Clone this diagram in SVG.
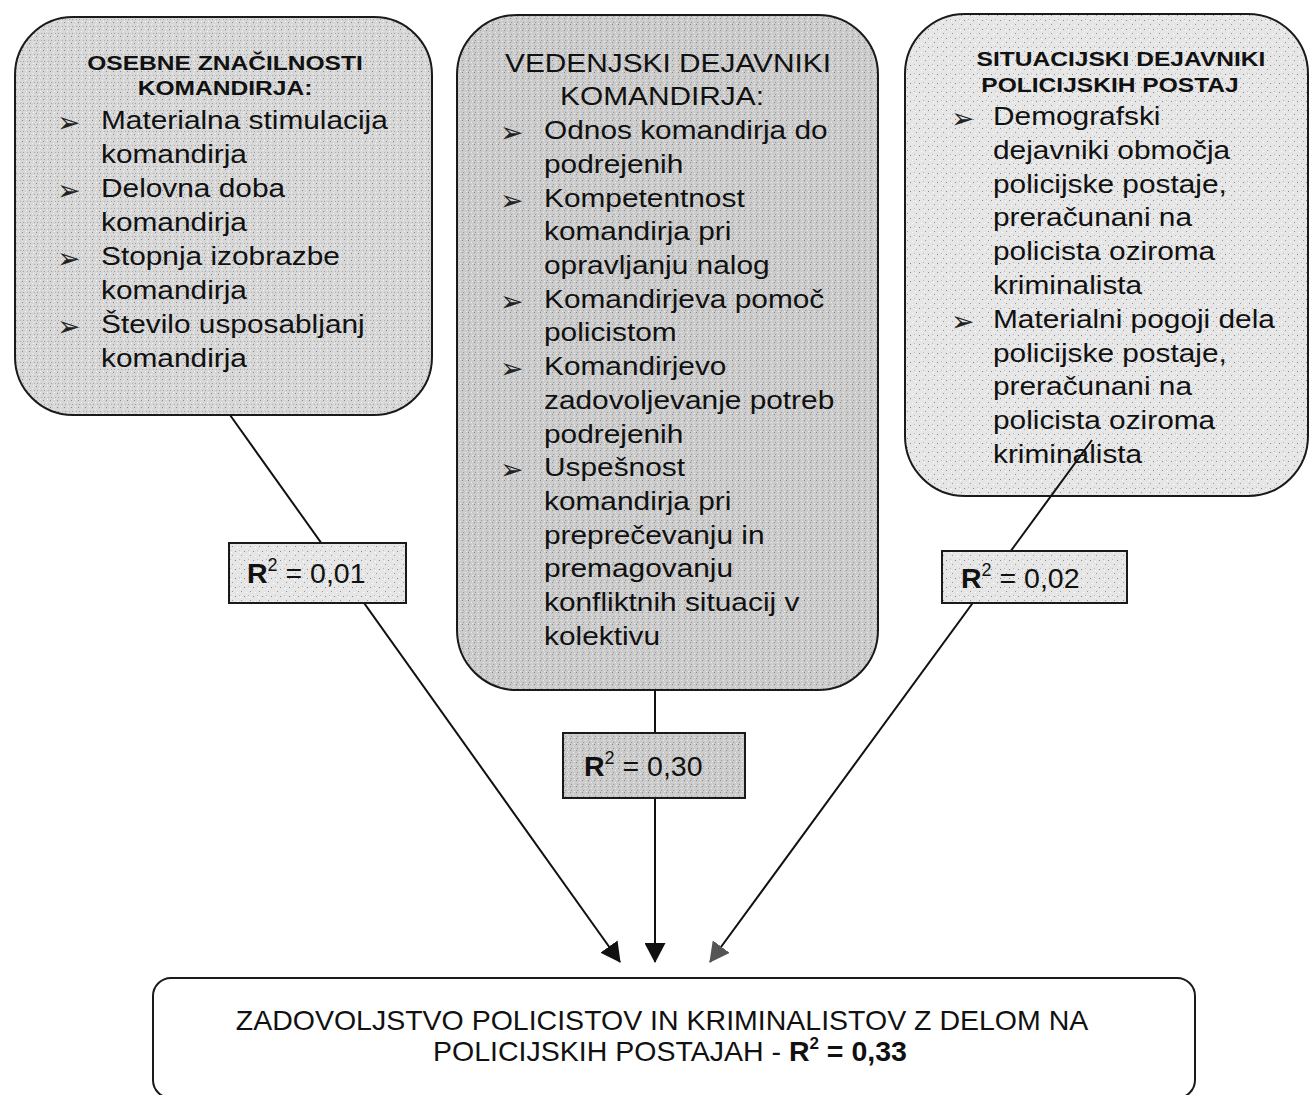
<svg xmlns="http://www.w3.org/2000/svg" width="1310" height="1095" viewBox="0 0 1310 1095">
<defs>
<pattern id="pL" width="7" height="7" patternUnits="userSpaceOnUse">
<rect width="7" height="7" fill="#d7d7d7"/>
<rect x="1" y="1" width="1" height="1" fill="#8a8a8a"/>
<rect x="4" y="3" width="1" height="1" fill="#f4f4f4"/>
<rect x="2" y="5" width="1" height="1" fill="#a0a0a0"/>
<rect x="5" y="0" width="1" height="1" fill="#fafafa"/>
<rect x="6" y="5" width="1" height="1" fill="#b0b0b0"/>
</pattern>
<pattern id="pM" width="6" height="6" patternUnits="userSpaceOnUse">
<rect width="6" height="6" fill="#cbcbcb"/>
<rect x="0" y="0" width="1" height="1" fill="#8c8c8c"/>
<rect x="3" y="2" width="1" height="1" fill="#ececec"/>
<rect x="1" y="4" width="1" height="1" fill="#9a9a9a"/>
<rect x="4" y="5" width="1" height="1" fill="#f0f0f0"/>
</pattern>
<pattern id="pR" width="9" height="9" patternUnits="userSpaceOnUse">
<rect width="9" height="9" fill="#e6e6e6"/>
<rect x="1" y="2" width="1" height="1" fill="#888"/>
<rect x="5" y="1" width="1" height="1" fill="#bbb"/>
<rect x="7" y="6" width="1" height="1" fill="#999"/>
<rect x="3" y="7" width="1" height="1" fill="#fff"/>
<rect x="6" y="3" width="1" height="1" fill="#fff"/>
</pattern>
<marker id="ahB" viewBox="0 0 20 21" refX="19" refY="10.5" markerWidth="20" markerHeight="21" markerUnits="userSpaceOnUse" orient="auto">
<path d="M0,0 L20,10.5 L0,21 z" fill="#111"/>
</marker>
<marker id="ahG" viewBox="0 0 20 21" refX="19" refY="10.5" markerWidth="20" markerHeight="21" markerUnits="userSpaceOnUse" orient="auto">
<path d="M0,0 L20,10.5 L0,21 z" fill="#555"/>
</marker>
</defs>
<style>
.box{stroke:#1a1a1a;stroke-width:2}
.t{font-family:"Liberation Sans",Arial,sans-serif;font-size:25.5px;fill:#111}
.h{font-family:"Liberation Sans",Arial,sans-serif;font-size:21px;font-weight:bold;fill:#111}
.c{text-anchor:middle}
.bu{font-family:"DejaVu Sans",sans-serif;font-size:28px;fill:#222}
.lb{font-family:"Liberation Sans",Arial,sans-serif;font-size:28.5px;fill:#111}
.bt{font-family:"Liberation Sans",Arial,sans-serif;font-size:28.5px;fill:#111;text-anchor:middle}
.ln{fill:none;stroke:#111;stroke-width:2}
</style>
<rect width="1310" height="1095" fill="#fff"/>

<g id="node-osebne">
<rect class="box" x="15" y="17" width="417" height="398" rx="58" fill="url(#pL)"/>
<text class="h c" transform="translate(225 70) scale(1.17 1)">OSEBNE ZNAČILNOSTI</text>
<text class="h c" transform="translate(225 95) scale(1.17 1)">KOMANDIRJA:</text>
<text class="bu" x="57" y="132">➢</text>
<text class="bu" x="57" y="200">➢</text>
<text class="bu" x="57" y="268">➢</text>
<text class="bu" x="57" y="336">➢</text>
<text class="t" transform="translate(101 129) scale(1.17 1)">Materialna stimulacija</text>
<text class="t" transform="translate(101 163) scale(1.17 1)">komandirja</text>
<text class="t" transform="translate(101 197) scale(1.17 1)">Delovna doba</text>
<text class="t" transform="translate(101 231) scale(1.17 1)">komandirja</text>
<text class="t" transform="translate(101 265) scale(1.17 1)">Stopnja izobrazbe</text>
<text class="t" transform="translate(101 299) scale(1.17 1)">komandirja</text>
<text class="t" transform="translate(101 333) scale(1.17 1)">Število usposabljanj</text>
<text class="t" transform="translate(101 367) scale(1.17 1)">komandirja</text>
</g>

<g id="node-vedenjski">
<rect class="box" x="457" y="15" width="421" height="675" rx="60" fill="url(#pM)"/>
<text class="t c" transform="translate(668 72) scale(1.17 1)">VEDENJSKI DEJAVNIKI</text>
<text class="t c" transform="translate(662 105) scale(1.17 1)">KOMANDIRJA:</text>
<text class="bu" x="500" y="142">➢</text>
<text class="bu" x="500" y="210">➢</text>
<text class="bu" x="500" y="311">➢</text>
<text class="bu" x="500" y="378">➢</text>
<text class="bu" x="500" y="479">➢</text>
<text class="t" transform="translate(544 139) scale(1.17 1)">Odnos komandirja do</text>
<text class="t" transform="translate(544 173) scale(1.17 1)">podrejenih</text>
<text class="t" transform="translate(544 207) scale(1.17 1)">Kompetentnost</text>
<text class="t" transform="translate(544 240) scale(1.17 1)">komandirja pri</text>
<text class="t" transform="translate(544 274) scale(1.17 1)">opravljanju nalog</text>
<text class="t" transform="translate(544 308) scale(1.17 1)">Komandirjeva pomoč</text>
<text class="t" transform="translate(544 341) scale(1.17 1)">policistom</text>
<text class="t" transform="translate(544 375) scale(1.17 1)">Komandirjevo</text>
<text class="t" transform="translate(544 409) scale(1.17 1)">zadovoljevanje potreb</text>
<text class="t" transform="translate(544 443) scale(1.17 1)">podrejenih</text>
<text class="t" transform="translate(544 476) scale(1.17 1)">Uspešnost</text>
<text class="t" transform="translate(544 510) scale(1.17 1)">komandirja pri</text>
<text class="t" transform="translate(544 544) scale(1.17 1)">preprečevanju in</text>
<text class="t" transform="translate(544 577) scale(1.17 1)">premagovanju</text>
<text class="t" transform="translate(544 611) scale(1.17 1)">konfliktnih situacij v</text>
<text class="t" transform="translate(544 645) scale(1.17 1)">kolektivu</text>
</g>

<g id="node-situacijski">
<rect class="box" x="905" y="14" width="403" height="482" rx="60" fill="url(#pR)"/>
<text class="h c" transform="translate(1121 66) scale(1.17 1)">SITUACIJSKI DEJAVNIKI</text>
<text class="h c" transform="translate(1110 92) scale(1.17 1)">POLICIJSKIH POSTAJ</text>
<text class="bu" x="951" y="128">➢</text>
<text class="bu" x="951" y="331">➢</text>
<text class="t" transform="translate(993 125) scale(1.17 1)">Demografski</text>
<text class="t" transform="translate(993 159) scale(1.17 1)">dejavniki območja</text>
<text class="t" transform="translate(993 193) scale(1.17 1)">policijske postaje,</text>
<text class="t" transform="translate(993 226) scale(1.17 1)">preračunani na</text>
<text class="t" transform="translate(993 260) scale(1.17 1)">policista oziroma</text>
<text class="t" transform="translate(993 294) scale(1.17 1)">kriminalista</text>
<text class="t" transform="translate(993 328) scale(1.17 1)">Materialni pogoji dela</text>
<text class="t" transform="translate(993 362) scale(1.17 1)">policijske postaje,</text>
<text class="t" transform="translate(993 395) scale(1.17 1)">preračunani na</text>
<text class="t" transform="translate(993 429) scale(1.17 1)">policista oziroma</text>
<text class="t" transform="translate(993 463) scale(1.17 1)">kriminalista</text>
</g>

<g id="connectors">
<line class="ln" x1="230" y1="415" x2="620" y2="962" marker-end="url(#ahB)"/>
<line class="ln" x1="655" y1="690" x2="655" y2="962" stroke-width="2.5" marker-end="url(#ahB)"/>
<line class="ln" x1="1092" y1="440" x2="710" y2="962" stroke="#444" stroke-width="1.6" marker-end="url(#ahG)"/>
</g>

<g id="label-r001">
<rect class="box" x="229" y="543" width="177" height="60" fill="url(#pR)"/>
<text class="lb" x="247" y="583"><tspan font-weight="bold">R</tspan><tspan font-size="18" dy="-12">2</tspan><tspan dy="12"> = 0,01</tspan></text>
</g>
<g id="label-r030">
<rect class="box" x="563" y="733" width="182" height="65" fill="url(#pM)"/>
<text class="lb" x="584" y="776"><tspan font-weight="bold">R</tspan><tspan font-size="18" dy="-12">2</tspan><tspan dy="12"> = 0,30</tspan></text>
</g>
<g id="label-r002">
<rect class="box" x="942" y="551" width="185" height="52" fill="url(#pR)" stroke-width="1.5"/>
<text class="lb" x="961" y="588"><tspan font-weight="bold">R</tspan><tspan font-size="18" dy="-12">2</tspan><tspan dy="12"> = 0,02</tspan></text>
</g>

<g id="node-zadovoljstvo">
<rect class="box" x="153" y="978" width="1042" height="120" rx="18" fill="#fff"/>
<text class="bt" x="662" y="1030">ZADOVOLJSTVO POLICISTOV IN KRIMINALISTOV Z DELOM NA</text>
<text class="bt" x="670" y="1061">POLICIJSKIH POSTAJAH -  <tspan font-weight="bold">R</tspan><tspan font-weight="bold" font-size="17" dy="-12">2</tspan><tspan font-weight="bold" dy="12"> = 0,33</tspan></text>
</g>
</svg>
